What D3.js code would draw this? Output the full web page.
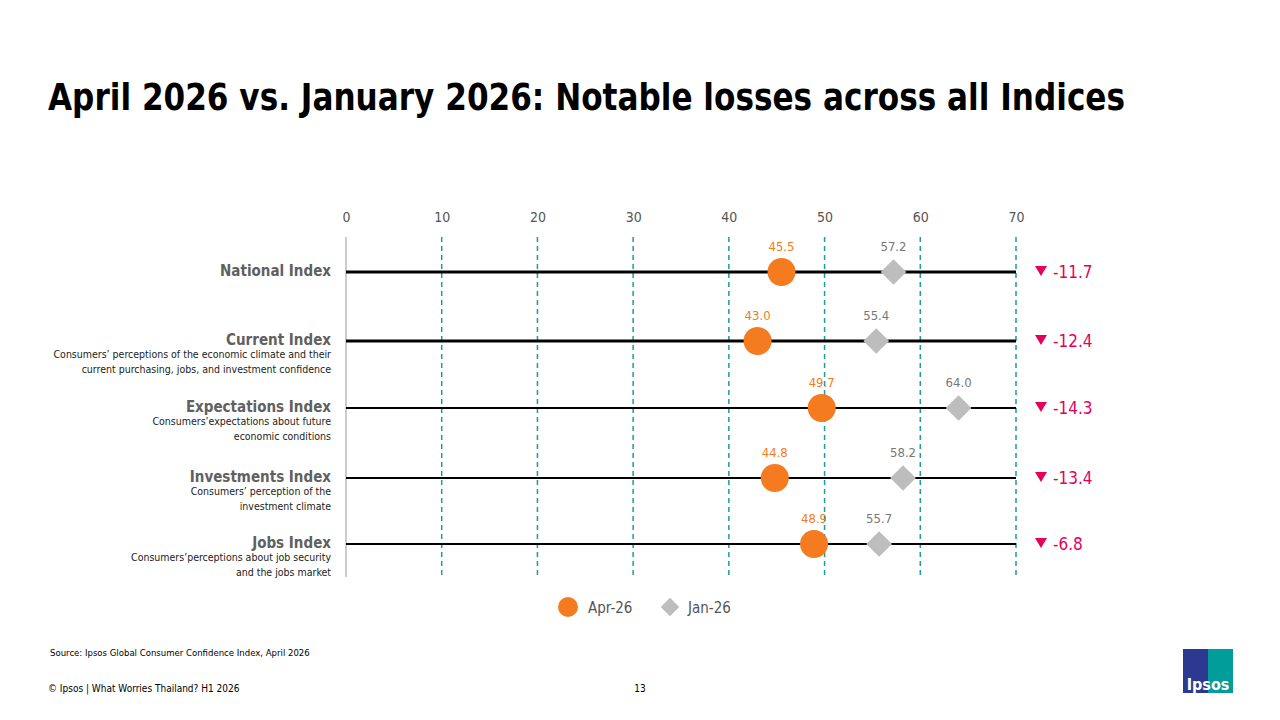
<!DOCTYPE html>
<html><head><meta charset="utf-8">
<script src="https://cdn.jsdelivr.net/npm/d3@7"></script>
<style>body{margin:0;background:#fff}svg{display:block}text{font-family:"Liberation Sans Narrow","DejaVu Sans Condensed",sans-serif}</style>
</head><body><svg id="c" width="1280" height="720"></svg>
<script>
const categories=["National Index","Current Index","Expectations Index","Investments Index","Jobs Index"];
const descriptions=[[],["Consumers’ perceptions of the economic climate and their","current purchasing, jobs, and investment confidence"],["Consumers’expectations about future","economic conditions"],["Consumers’ perception of the","investment climate"],["Consumers’perceptions about job security","and the jobs market"]];
const apr26=[45.5,43.0,49.7,44.8,48.9];
const jan26=[57.2,55.4,64.0,58.2,55.7];
const changes=["-11.7","-12.4","-14.3","-13.4","-6.8"];
const ticks=[0,10,20,30,40,50,60,70];
const rowY=[272,341,408,478,544];

const svg=d3.select("#c");
const x=d3.scaleLinear().domain([0,70]).range([346,1016]);
svg.append("text").attr("x",48).attr("y",110).attr("font-size",38).attr("font-weight","bold").attr("fill","#000")
 .attr("textLength",1077).attr("lengthAdjust","spacingAndGlyphs").text("April 2026 vs. January 2026: Notable losses across all Indices");
const ax=svg.append("g").attr("transform","translate(0,222)").call(d3.axisTop(x).tickValues(ticks).tickSize(0).tickPadding(0));
ax.select(".domain").remove();
ax.selectAll("text").attr("font-size",14).attr("fill","#555").attr("font-family","'Liberation Sans Narrow',sans-serif");
svg.append("line").attr("x1",x(0)).attr("x2",x(0)).attr("y1",237).attr("y2",577).attr("stroke","#ccc").attr("stroke-width",2);
ticks.slice(1).forEach(t=>svg.append("line").attr("x1",x(t)).attr("x2",x(t)).attr("y1",237).attr("y2",577).attr("stroke","#1a9ba5").attr("stroke-width",1.5).attr("stroke-dasharray","5,4"));
categories.forEach((c,i)=>{
 const y=rowY[i];
 svg.append("line").attr("x1",x(0)).attr("x2",x(70)).attr("y1",y).attr("y2",y).attr("stroke","#000").attr("stroke-width",i<2?3:2);
 svg.append("text").attr("x",331).attr("y",y+4).attr("text-anchor","end").attr("font-size",15).attr("font-weight","bold").attr("fill","#606060").text(c);
 descriptions[i].forEach((d,j)=>svg.append("text").attr("x",331).attr("y",y+17+j*15).attr("text-anchor","end").attr("font-size",10.5).attr("fill","#222").text(d));
 svg.append("path").attr("d",d3.symbol(d3.symbolSquare,330)()).attr("transform",`translate(${x(jan26[i])},${y}) rotate(45)`).attr("fill","#bdbdbd");
 svg.append("circle").attr("cx",x(apr26[i])).attr("cy",y).attr("r",14).attr("fill","#f47b20");
 svg.append("text").attr("x",x(apr26[i])).attr("y",y-21).attr("text-anchor","middle").attr("font-size",13).attr("fill","#f47b20").text(apr26[i].toFixed(1));
 svg.append("text").attr("x",x(jan26[i])).attr("y",y-21).attr("text-anchor","middle").attr("font-size",13).attr("fill","#777").text(jan26[i].toFixed(1));
 svg.append("path").attr("d","M-6,-5L6,-5L0,5Z").attr("transform",`translate(1041,${y-1})`).attr("fill","#e5005b");
 svg.append("text").attr("x",1053).attr("y",y+6).attr("font-size",17).attr("fill","#e5005b").text(changes[i]);
});
svg.append("circle").attr("cx",568).attr("cy",607).attr("r",10).attr("fill","#f47b20");
svg.append("text").attr("x",588).attr("y",613).attr("font-size",15).attr("fill","#555").text("Apr-26");
svg.append("path").attr("d",d3.symbol(d3.symbolSquare,170)()).attr("transform","translate(670,607) rotate(45)").attr("fill","#bdbdbd");
svg.append("text").attr("x",688).attr("y",613).attr("font-size",15).attr("fill","#555").text("Jan-26");
svg.append("text").attr("x",50).attr("y",656).attr("font-size",9.5).attr("fill","#000").text("Source: Ipsos Global Consumer Confidence Index, April 2026");
svg.append("text").attr("x",48).attr("y",692).attr("font-size",10).attr("fill","#000").text("© Ipsos | What Worries Thailand? H1 2026");
svg.append("text").attr("x",640).attr("y",692).attr("text-anchor","middle").attr("font-size",10).attr("fill","#000").text("13");
svg.append("rect").attr("x",1183).attr("y",649).attr("width",50).attr("height",44).attr("fill","#2b3990");
svg.append("path").attr("d","M1208,649L1233,649L1233,693L1208,693Z").attr("fill","#009d9a");
svg.append("text").attr("x",1208).attr("y",690).attr("text-anchor","middle").attr("font-size",16).attr("font-weight","bold").attr("fill","#fff").text("Ipsos");
</script></body></html>
